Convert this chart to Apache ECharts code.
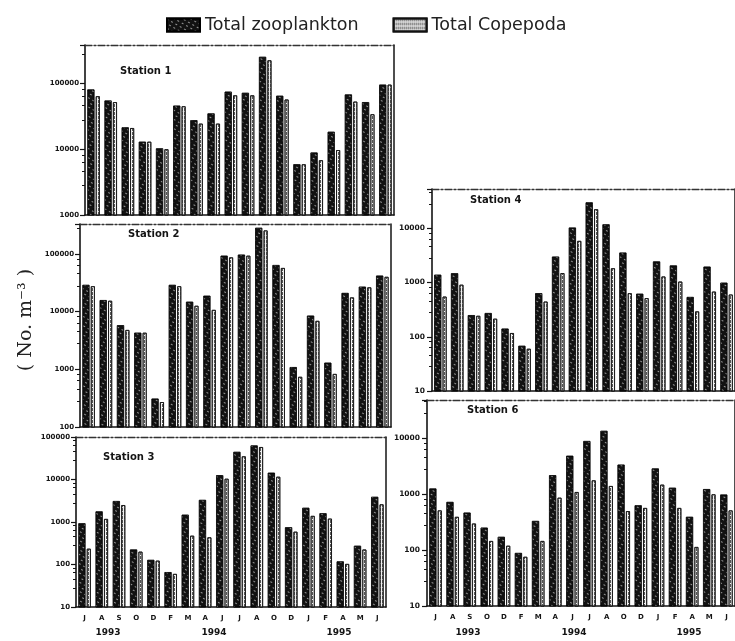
<!DOCTYPE html>
<html>
<head>
<meta charset="utf-8">
<script src="https://cdn.jsdelivr.net/npm/echarts@6/dist/echarts.min.js"></script>
<style>
  html, body { margin: 0; background: #fff; }
  #chart { width: 735px; height: 641px; }
</style>
</head>
<body>
<div id="chart"></div>
<script>
// sampling months, Jul 1993 - Jun 1995
const months = ["J", "A", "S", "O", "D", "F", "M", "A", "J", "J", "A", "O", "D", "J", "F", "A", "M", "J"];
const years = ["1993", "1994", "1995"];
const stations = ["Station 1", "Station 2", "Station 3", "Station 4", "Station 6"];

// No. m-3
const zoo1 = [81000, 55000, 21500, 13000, 10300, 46000, 27600, 35000, 75000, 72000, 254000, 65000, 5900, 8900, 18400, 68000, 52000, 96000];
const cop1 = [64000, 52000, 21000, 13000, 10000, 45000, 24500, 24500, 66000, 66000, 225000, 57000, 5900, 6800, 9700, 53000, 34000, 96000];
const zoo2 = [29000, 15800, 5800, 4300, 310, 29000, 14800, 18800, 93000, 97000, 283000, 64000, 1090, 8500, 1300, 21000, 27000, 42000];
const cop2 = [27500, 15400, 4800, 4300, 270, 27500, 12600, 10700, 87000, 93000, 255000, 57000, 740, 6900, 830, 17600, 26300, 40000];
const zoo3 = [930, 1770, 3100, 225, 128, 66, 1480, 3300, 12600, 44600, 63000, 14400, 750, 2150, 1600, 118, 275, 3900];
const cop3 = [235, 1180, 2500, 200, 123, 60, 475, 435, 10400, 35000, 58000, 11600, 590, 1390, 1200, 103, 225, 2600];
const zoo4 = [1390, 1480, 250, 273, 141, 68, 634, 3000, 10300, 30000, 11800, 3560, 620, 2440, 2060, 540, 1960, 990];
const cop4 = [550, 910, 243, 215, 117, 60, 445, 1490, 5850, 22400, 1830, 635, 515, 1290, 1040, 293, 680, 600];
const zoo6 = [1270, 730, 470, 253, 173, 89, 333, 2200, 4900, 9000, 13700, 3400, 635, 2900, 1310, 395, 1240, 990];
const cop6 = [515, 395, 300, 146, 120, 76, 146, 870, 1100, 1780, 1410, 500, 570, 1490, 570, 114, 1000, 515];

const yMin = [1000, 100, 10, 10, 10];
const yMax = [385000, 330000, 100000, 53000, 49000];

const zooData = [zoo1, zoo2, zoo3, zoo4, zoo6];
const copData = [cop1, cop2, cop3, cop4, cop6];

// panel boxes (the scan is slightly skewed, so each one is placed by hand)
const panels = [
  { left: 85, top: 45, width: 309, height: 170, months: false, title: [120, 71] },
  { left: 80, top: 224, width: 311, height: 203, months: false, title: [128, 234] },
  { left: 76, top: 437, width: 310, height: 170, months: true, title: [103, 457] },
  { left: 432, top: 189, width: 312, height: 202, months: false, title: [470, 200] },
  { left: 427, top: 400, width: 312, height: 206, months: true, title: [467, 410] },
];

const ink = "#141414";
const labelFont = "DejaVu Sans";

const zooStyle = {
  color: "#121212",
  borderColor: "#000",
  borderWidth: 0.6,
  decal: {
    symbol: "rect",
    symbolSize: 1,
    color: "rgba(255,255,255,0.55)",
    dashArrayX: [[2, 3]],
    dashArrayY: [1, 3],
  },
};
const copStyle = {
  color: "#f2f2f2",
  borderColor: "#111",
  borderWidth: 0.8,
  decal: {
    symbol: "rect",
    symbolSize: 1,
    color: "#555",
    dashArrayX: [[1, 1]],
    dashArrayY: [3, 1],
  },
};

const isDecade = (v) => {
  const e = Math.log10(v);
  return Math.abs(e - Math.round(e)) < 1e-6;
};

const grid = [];
const xAxis = [];
const yAxis = [];
const series = [];

panels.forEach((p, i) => {
  grid.push({ left: p.left, top: p.top, width: p.width, height: p.height, show: false });

  // bottom category axis
  xAxis.push({
    gridIndex: i,
    type: "category",
    data: months,
    position: "bottom",
    axisLine: { onZero: false, lineStyle: { color: ink, width: 1.5 } },
    axisTick: { alignWithLabel: true, length: 5, lineStyle: { color: ink, width: 1.2 } },
    axisLabel: {
      show: p.months,
      interval: 0,
      margin: 8,
      color: ink,
      fontFamily: labelFont,
      fontWeight: "bold",
      fontSize: 7,
    },
  });
  // dashed top border
  xAxis.push({
    gridIndex: i,
    type: "category",
    data: months,
    position: "top",
    axisLine: { onZero: false, lineStyle: { color: "#333", width: 1.3, type: [7, 2, 2, 2] } },
    axisTick: { show: false },
    axisLabel: { show: false },
  });

  yAxis.push({
    gridIndex: i,
    type: "log",
    logBase: 10,
    min: yMin[i],
    max: yMax[i],
    interval: 1,
    position: "left",
    axisLine: { show: true, lineStyle: { color: ink, width: 1.6 } },
    axisTick: { show: true, length: 5, lineStyle: { color: ink, width: 1.2 } },
    minorTick: { show: true, splitNumber: 5, length: 3, lineStyle: { color: ink, width: 1 } },
    splitLine: { show: false },
    axisLabel: {
      margin: i >= 3 ? 7 : 6,
      color: ink,
      fontFamily: labelFont,
      fontWeight: "bold",
      fontSize: i >= 3 ? 7.5 : 7,
      showMaxLabel: isDecade(yMax[i]),
      formatter: (v) => (isDecade(v) ? String(Math.round(v)) : ""),
    },
  });
  // solid right border
  yAxis.push({
    gridIndex: i,
    type: "value",
    min: 0,
    max: 1,
    position: "right",
    axisLine: { show: true, lineStyle: { color: ink, width: 1.5 } },
    axisTick: { show: false },
    axisLabel: { show: false },
    splitLine: { show: false },
  });

  series.push({
    name: "Total zooplankton",
    type: "bar",
    xAxisIndex: i * 2,
    yAxisIndex: i * 2,
    barWidth: 7,
    barGap: "20%",
    itemStyle: zooStyle,
    data: zooData[i],
  });
  series.push({
    name: "Total Copepoda",
    type: "bar",
    xAxisIndex: i * 2,
    yAxisIndex: i * 2,
    barWidth: 4,
    barGap: "20%",
    itemStyle: copStyle,
    data: copData[i],
  });
});

const graphic = [];
panels.forEach((p, i) => {
  graphic.push({
    type: "text",
    x: p.title[0],
    y: p.title[1],
    style: {
      text: stations[i],
      fill: ink,
      font: "bold 10px 'DejaVu Sans'",
      textVerticalAlign: "middle",
    },
  });
});

// year captions under the two bottom panels
const yearX = [[108, 214, 339], [468, 574, 689]];
yearX.forEach((xs) => {
  xs.forEach((x, k) => {
    graphic.push({
      type: "text",
      x: x,
      y: 633,
      style: {
        text: years[k],
        fill: ink,
        font: "bold 9px 'DejaVu Sans'",
        textAlign: "center",
        textVerticalAlign: "middle",
      },
    });
  });
});

graphic.push({
  type: "text",
  x: 26,
  y: 320,
  rotation: Math.PI / 2,
  style: {
    text: "( No. m\u207B\u00B3 )",
    fill: "#222",
    font: "19px 'DejaVu Serif'",
    textAlign: "center",
    textVerticalAlign: "middle",
  },
});

const chart = echarts.init(document.getElementById("chart"));
chart.setOption({
  animation: false,
  backgroundColor: "#fff",
  aria: { enabled: true, decal: { show: true } },
  legend: {
    data: ["Total zooplankton", "Total Copepoda"],
    left: 161,
    top: 11,
    icon: "rect",
    itemWidth: 33,
    itemHeight: 13,
    itemGap: 34,
    textStyle: { color: "#222", fontFamily: labelFont, fontSize: 17.5 },
  },
  grid,
  xAxis,
  yAxis,
  series,
  graphic,
});
</script>
</body>
</html>
